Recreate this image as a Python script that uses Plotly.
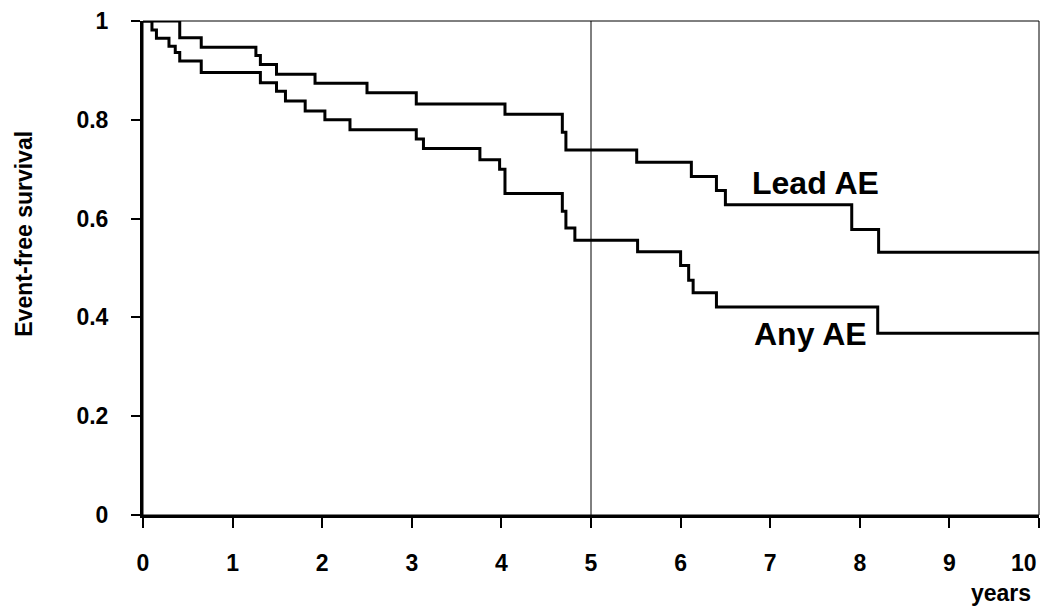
import plotly.graph_objects as go

# Kaplan-Meier step data
lead_t = [0, 0.41, 0.65, 1.26, 1.31, 1.49, 1.92, 2.50, 3.05, 4.04, 4.68, 4.72, 5.51, 6.12, 6.40, 6.50, 7.91, 8.21, 10]
lead_s = [1.0, 0.966, 0.947, 0.930, 0.912, 0.892, 0.874, 0.855, 0.832, 0.811, 0.775, 0.739, 0.714, 0.685, 0.657, 0.628, 0.578, 0.532, 0.532]

any_t = [0, 0.10, 0.15, 0.29, 0.36, 0.41, 0.65, 1.31, 1.49, 1.59, 1.81, 2.03, 2.31, 3.05, 3.13, 3.76, 3.98, 4.04, 4.68, 4.72, 4.82, 5.52, 6.00, 6.09, 6.14, 6.40, 8.20, 10]
any_s = [1.0, 0.982, 0.965, 0.949, 0.936, 0.919, 0.896, 0.875, 0.858, 0.838, 0.818, 0.800, 0.780, 0.761, 0.742, 0.719, 0.700, 0.651, 0.615, 0.581, 0.556, 0.533, 0.505, 0.475, 0.450, 0.421, 0.368, 0.368]

x_ticks = list(range(0, 11))
x_ticklabels = [str(v) for v in x_ticks[:-1]] + [""]
y_ticks = [0, 0.2, 0.4, 0.6, 0.8, 1]
y_ticklabels = ["0", "0.2", "0.4", "0.6", "0.8", "1"]

FONT = "Liberation Sans, Arial, sans-serif"

fig = go.Figure()
fig.add_trace(go.Scatter(x=lead_t, y=lead_s, mode="lines", line=dict(color="black", width=3, shape="hv"),
                         name="Lead AE", cliponaxis=False, showlegend=False))
fig.add_trace(go.Scatter(x=any_t, y=any_s, mode="lines", line=dict(color="black", width=3, shape="hv"),
                         name="Any AE", cliponaxis=False, showlegend=False))

# thin frame (top/right) and 5-year vertical line
fig.add_shape(type="rect", xref="paper", yref="paper", x0=0, x1=1, y0=0, y1=1,
              line=dict(color="black", width=1), layer="below")
fig.add_shape(type="line", xref="x", yref="y", x0=5, x1=5, y0=0, y1=1,
              line=dict(color="black", width=1), layer="below")

fig.add_annotation(x=6.78, y=0.673, xref="x", yref="y", text="Lead AE", showarrow=False,
                   xanchor="left", yanchor="middle", font=dict(family=FONT, size=32, color="black", weight="bold"))
fig.add_annotation(x=6.80, y=0.367, xref="x", yref="y", text="Any AE", showarrow=False,
                   xanchor="left", yanchor="middle", font=dict(family=FONT, size=32, color="black", weight="bold"))
fig.add_annotation(x=10, y=-0.098, xref="x", yref="paper", text=str(x_ticks[-1]), showarrow=False,
                   xanchor="right", yanchor="middle", font=dict(family=FONT, size=23, color="black", weight="bold"))
fig.add_annotation(x=1.0, y=-0.158, xref="paper", yref="paper", text="years", showarrow=False,
                   xanchor="right", yanchor="middle", xshift=-6, font=dict(family=FONT, size=23, color="black", weight="bold"))
fig.add_annotation(x=-0.133, y=0.569, xref="paper", yref="paper", text="Event-free survival", showarrow=False,
                   textangle=-90, xanchor="center", yanchor="middle",
                   font=dict(family=FONT, size=23, color="black", weight="bold"))

fig.update_layout(
    width=1047, height=611,
    margin=dict(l=143, r=8, t=18, b=96),
    paper_bgcolor="white", plot_bgcolor="white",
    xaxis=dict(range=[0, 10], tickvals=x_ticks, ticktext=x_ticklabels, showgrid=False, zeroline=False,
               showline=True, linecolor="black", linewidth=3,
               ticks="outside", ticklen=10, tickwidth=2, tickcolor="black", ticklabelstandoff=15,
               tickfont=dict(family=FONT, size=23, color="black", weight="bold")),
    yaxis=dict(range=[0, 1], tickvals=y_ticks, ticktext=y_ticklabels, showgrid=False, zeroline=False,
               showline=True, linecolor="black", linewidth=3,
               ticks="outside", ticklen=9, tickwidth=2, tickcolor="black", ticklabelstandoff=18,
               tickfont=dict(family=FONT, size=23, color="black", weight="bold")),
)

fig.write_html("out.html", config={"displayModeBar": False},
               post_script="document.body.style.margin='0';")
